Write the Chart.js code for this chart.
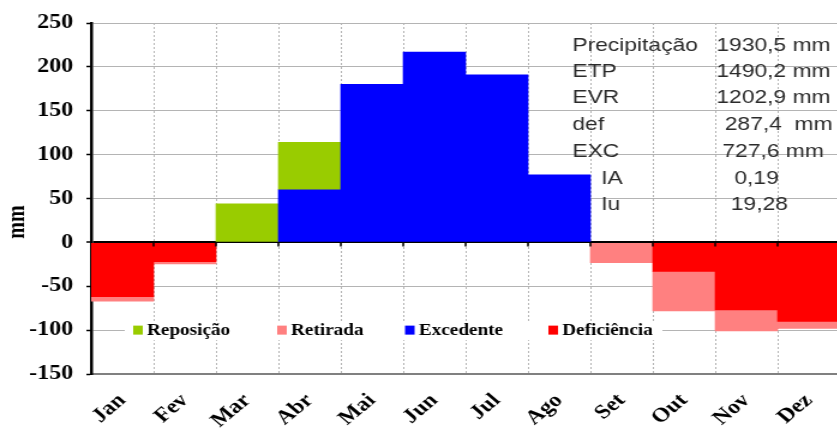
<!DOCTYPE html>
<html lang="pt">
<head>
<meta charset="utf-8">
<title>Balanço hídrico</title>
<script src="https://cdn.jsdelivr.net/npm/chart.js@4.4.1/dist/chart.umd.min.js"></script>
<style>
  html, body { margin: 0; padding: 0; background: #fff; overflow: hidden; }
</style>
</head>
<body>
<!-- o original está esticado na horizontal, por isso o canvas é desenhado a 700 e mostrado a 840 -->
<canvas id="grafico" width="700" height="428" style="display:block;width:840px;height:428px"></canvas>
<script>
const meses = ['Jan', 'Fev', 'Mar', 'Abr', 'Mai', 'Jun', 'Jul', 'Ago', 'Set', 'Out', 'Nov', 'Dez'];

// valores em mm (null = sem barra)
const excedente   = [null, null, null, 60, 180, 217, 191, 77, null, null, null, null];
const reposicao   = [null, null, 44, 54, null, null, null, null, null, null, null, null];
const deficiencia = [-62, -22, null, null, null, null, null, null, null, -33, -77, -90];
const retirada    = [-5, -2.5, null, null, null, null, null, null, -23, -45, -24, -8];

const marcasY = [-150, -100, -50, 0, 50, 100, 150, 200, 250];

const ordemLegenda = ['Reposição', 'Retirada', 'Excedente', 'Deficiência'];

const resumoNomes   = ['Precipitação', 'ETP', 'EVR', 'def', 'EXC', 'IA', 'Iu'];
const resumoValores = ['1930,5 mm', '1490,2 mm', '1202,9 mm', '287,4  mm', '727,6 mm', '0,19', '19,28'];

const serif = '"Liberation Serif", "Times New Roman", serif';

/* desenha o título do eixo, a legenda dentro do gráfico e a tabela de resumo */
const extras = {
    id: 'extras',
    afterDatasetsDraw(chart) {
        const { ctx } = chart;
        const x = chart.scales.x;
        const y = chart.scales.y;
        ctx.save();

        // pequenas marcas do eixo em zero
        const y0 = y.getPixelForValue(0);
        const meia = (x.getPixelForValue(1) - x.getPixelForValue(0)) / 2;
        ctx.strokeStyle = '#000';
        ctx.lineWidth = 1.5;
        meses.forEach((m, i) => {
            const px = x.getPixelForValue(i) + meia;
            ctx.beginPath();
            ctx.moveTo(px, y0);
            ctx.lineTo(px, y0 + 4);
            ctx.stroke();
        });

        // legenda
        const yl = y.getPixelForValue(-100);
        ctx.fillStyle = '#fff';
        ctx.fillRect(104, yl - 9, 448, 19);
        const posLegenda = [111, 231, 337.5, 457];
        ctx.font = 'bold 16px ' + serif;
        ctx.textBaseline = 'middle';
        ctx.textAlign = 'left';
        ordemLegenda.forEach((nome, i) => {
            const ds = chart.data.datasets.find(d => d.label === nome);
            ctx.fillStyle = ds.backgroundColor;
            ctx.fillRect(posLegenda[i], yl - 4.5, 8, 9);
            ctx.fillStyle = '#000';
            ctx.fillText(nome, posLegenda[i] + 11.5, yl + 1);
        });

        // tabela de resumo
        const linhasY = [46, 72, 98, 125, 152, 179, 205];
        const xNomes = [477, 477, 477, 477, 477, 501, 501];
        const xValores = [597, 597, 597, 604, 602, 612, 609];
        ctx.font = '19px "Liberation Sans", Arial, sans-serif';
        ctx.fillStyle = '#2a2a2a';
        resumoNomes.forEach((nome, i) => {
            ctx.fillText(nome, xNomes[i], linhasY[i]);
            ctx.fillText(resumoValores[i], xValores[i], linhasY[i]);
        });

        // título do eixo y
        ctx.translate(15, 222);
        ctx.rotate(-Math.PI / 2);
        ctx.textAlign = 'center';
        ctx.fillStyle = '#000';
        ctx.font = 'bold 20px ' + serif;
        ctx.fillText('mm', 0, 0);

        ctx.restore();
    }
};

const grafico = new Chart(document.querySelector('#grafico'), {
    type: 'bar',
    data: {
        labels: meses,
        datasets: [
            { label: 'Excedente', data: excedente, backgroundColor: '#0000FF' },
            { label: 'Deficiência', data: deficiencia, backgroundColor: '#FF0000' },
            { label: 'Reposição', data: reposicao, backgroundColor: '#99CC00' },
            { label: 'Retirada', data: retirada, backgroundColor: '#FF8080' }
        ]
    },
    options: {
        responsive: false,
        animation: false,
        events: [],
        barPercentage: 1,
        categoryPercentage: 1,
        layout: { padding: { top: 22, right: 0, left: 0, bottom: 0 } },
        plugins: {
            legend: { display: false },
            tooltip: { enabled: false }
        },
        scales: {
            x: {
                stacked: true,
                grid: { color: '#b4b4b4', offset: true, drawTicks: false },
                border: { color: '#808080', width: 2, dash: [2, 2] },
                ticks: {
                    color: '#000',
                    font: { family: serif, size: 20, weight: 'bold' },
                    minRotation: 45,
                    maxRotation: 45,
                    autoSkip: false,
                    padding: 15
                },
                afterFit(s) {
                    s.height = 54;
                    s.paddingLeft = 0;
                    s.paddingRight = 0;
                }
            },
            y: {
                stacked: true,
                min: marcasY[0],
                max: marcasY[marcasY.length - 1],
                ticks: {
                    stepSize: marcasY[1] - marcasY[0],
                    color: '#000',
                    font: { family: serif, size: 20, weight: 'bold' },
                    padding: 11
                },
                grid: {
                    color: c => (c.tick && c.tick.value === 0) ? '#000' : '#b4b4b4',
                    lineWidth: c => (c.tick && c.tick.value === 0) ? 2 : 1,
                    tickColor: '#000',
                    tickLength: 4,
                    tickWidth: 1.5
                },
                border: { color: '#000', width: 2.5 },
                afterFit(s) { s.width = 76; }
            }
        }
    },
    plugins: [extras]
});
</script>
</body>
</html>
